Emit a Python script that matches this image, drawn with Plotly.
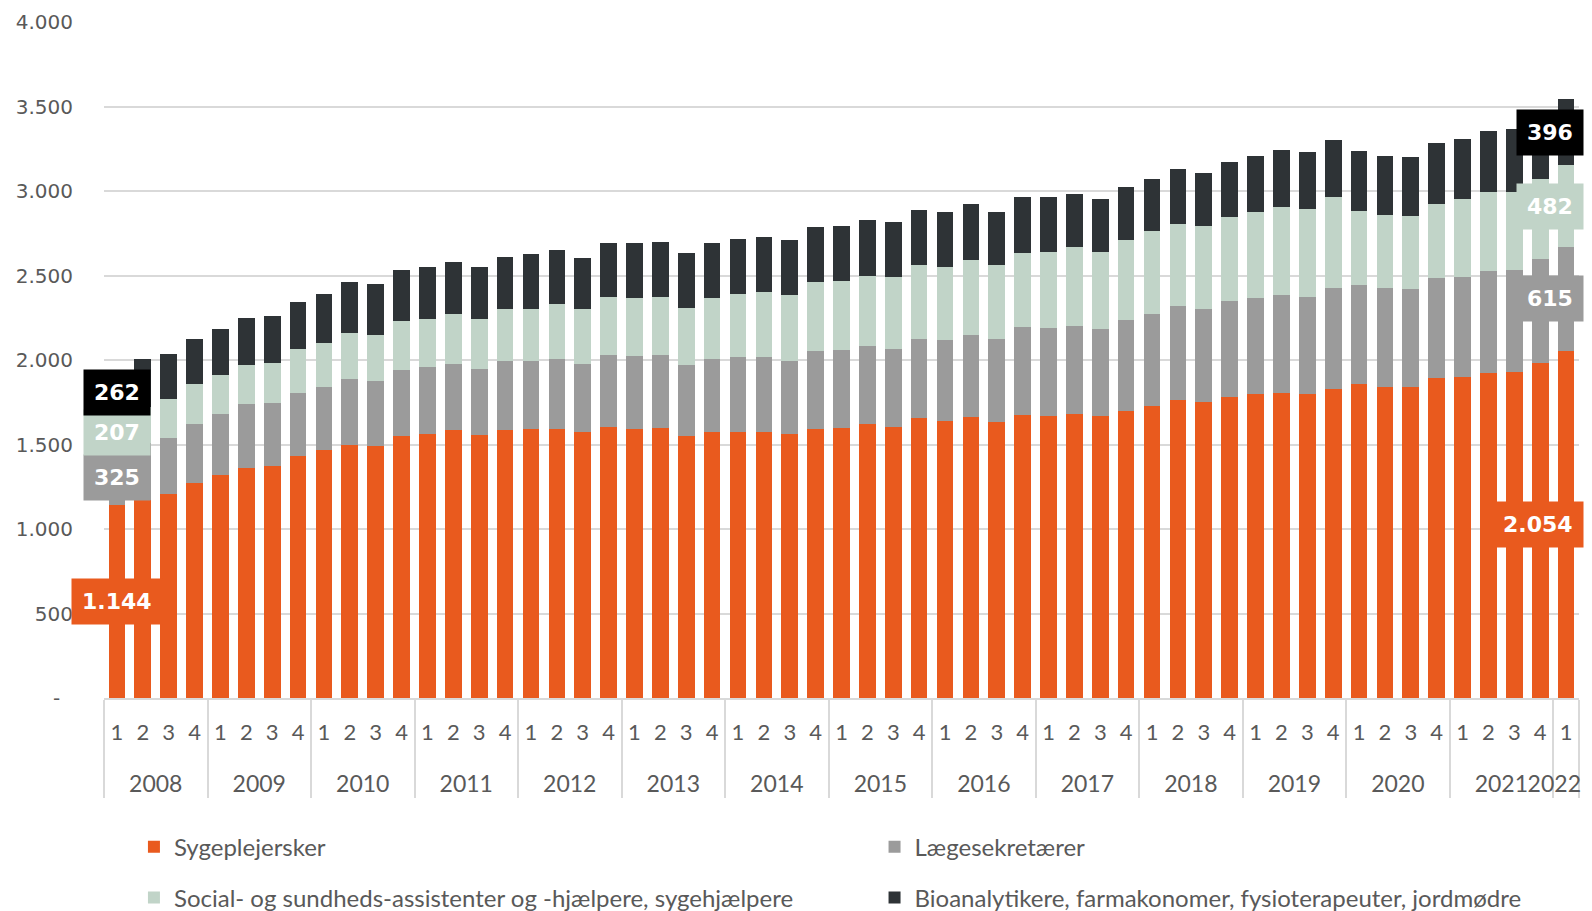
import plotly.graph_objects as go

years = ["2008", "2009", "2010", "2011", "2012", "2013", "2014", "2015",
         "2016", "2017", "2018", "2019", "2020", "2021", "2022"]
quarters = ["1", "2", "3", "4"]

sygeplejersker = [1144, 1174, 1209, 1272, 1321, 1361, 1372, 1432, 1467, 1500, 1494, 1549,
                  1560, 1584, 1554, 1584, 1592, 1592, 1573, 1603, 1592, 1598, 1549, 1576,
                  1576, 1576, 1560, 1592, 1598, 1622, 1603, 1655, 1639, 1660, 1633, 1677,
                  1671, 1682, 1666, 1701, 1728, 1763, 1753, 1780, 1796, 1807, 1796, 1829,
                  1856, 1842, 1842, 1891, 1902, 1924, 1929, 1984, 2054]
laegesekretaerer = [325, 336, 332, 350, 361, 378, 372, 375, 375, 386, 381, 391,
                    397, 391, 394, 408, 405, 411, 405, 427, 432, 432, 424, 432,
                    440, 440, 437, 460, 462, 460, 462, 470, 481, 489, 492, 519,
                    519, 519, 519, 535, 544, 555, 551, 568, 571, 579, 576, 598,
                    590, 585, 579, 593, 592, 603, 603, 611, 615]
sosu = [207, 212, 228, 234, 228, 231, 240, 258, 261, 271, 274, 291,
        285, 297, 294, 307, 307, 326, 326, 342, 343, 342, 337, 356,
        375, 389, 386, 407, 405, 418, 424, 437, 432, 443, 437, 440,
        451, 465, 456, 473, 489, 489, 487, 497, 511, 522, 522, 535,
        437, 432, 432, 437, 457, 467, 462, 476, 482]
bioanalytikere = [262, 286, 264, 269, 272, 277, 277, 280, 288, 302, 302, 299,
                  310, 309, 310, 312, 324, 320, 302, 321, 326, 326, 323, 329,
                  326, 323, 326, 326, 326, 331, 326, 326, 323, 329, 313, 326,
                  321, 315, 310, 315, 312, 326, 318, 326, 331, 334, 334, 340,
                  353, 350, 351, 361, 356, 364, 375, 369, 396]

series_names = ["Sygeplejersker", "Lægesekretærer",
                "Social- og sundheds-assistenter og -hjælpere, sygehjælpere",
                "Bioanalytikere, farmakonomer, fysioterapeuter, jordmødre"]
series_values = [sygeplejersker, laegesekretaerer, sosu, bioanalytikere]
colors = ["#E95A1E", "#9B9B9B", "#C1D4C8", "#2E3336"]
label_bg = ["#E95A1E", "#9B9B9B", "#C1D4C8", "#000000"]
legend_ids = ["legend", "legend2", "legend3", "legend4"]

ytick_vals = [0, 500, 1000, 1500, 2000, 2500, 3000, 3500, 4000]
ytick_text = ["-\u00a0\u00a0", "500", "1.000", "1.500", "2.000", "2.500", "3.000", "3.500", "4.000"]

n = len(sygeplejersker)
x_year = []
x_q = []
for i in range(n):
    yr = years[i // 4]
    if yr == years[-1]:
        yr = yr + "\u00a0" * 4  # keep the last, partial year label inside the page
    x_year.append("<span style='font-size:23px'>" + yr + "</span>")
    x_q.append("<span style='font-size:22px'>" + quarters[i % 4] + "</span><br> ")

fig = go.Figure()
for name, vals, col, lg in zip(series_names, series_values, colors, legend_ids):
    fig.add_trace(go.Bar(x=[x_year, x_q], y=vals, name=name, marker_color=col,
                         marker_line_width=0, legend=lg, showlegend=True))

def fmt(v):
    return f"{v:,}".replace(",", ".")

annotations = []
for idx, shift, anchor in [(0, 0, "center"), (n - 1, 18, "right")]:
    base = 0
    for k, vals in enumerate(series_values):
        v = vals[idx]
        mid = base + v / 2
        base += v
        annotations.append(dict(
            x=idx, y=mid, xref="x", yref="y", text=f"<b>{fmt(v)}</b>",
            showarrow=False, xanchor=anchor, xshift=shift,
            font=dict(family="DejaVu Sans", size=22, color="white"),
            bgcolor=label_bg[k], borderpad=10))

legend_common = dict(orientation="h", xanchor="left", yanchor="top", visible=True,
                     font=dict(family="Lato", size=24, color="#595959"))
legend_pos = [(0.0203, -0.1872), (0.5224, -0.1872), (0.0203, -0.2626), (0.5224, -0.2626)]

layout_legends = {}
for lg, (lx, ly) in zip(legend_ids, legend_pos):
    layout_legends[lg] = dict(x=lx, y=ly, **legend_common)

fig.update_layout(
    width=1576, height=903,
    margin=dict(l=96, r=5, t=14, b=213, autoexpand=False),
    paper_bgcolor="white", plot_bgcolor="white",
    barmode="stack", bargap=0.355,
    showlegend=True,
    annotations=annotations,
    font=dict(family="Lato", color="#595959"),
    **layout_legends,
)
fig.update_yaxes(range=[0, 4000], tickvals=ytick_vals, ticktext=ytick_text,
                 showgrid=True, gridcolor="#D9D9D9", gridwidth=1.5,
                 zeroline=False, showline=False, automargin=False,
                 tickfont=dict(family="DejaVu Sans", size=20, color="#595959"),
                 ticks="", ticklabelstandoff=30)
fig.update_xaxes(type="multicategory", range=[-0.5, n - 0.5],
                 showline=True, linecolor="#D9D9D9", linewidth=2,
                 showdividers=True, dividercolor="#D9D9D9", dividerwidth=2,
                 tickmode="linear", tick0=0, dtick=1, tickangle=0, automargin=False,
                 tickfont=dict(family="Lato", size=25, color="#595959"),
                 showgrid=False, ticks="", ticklabelstandoff=10)

fig.write_html("out.html")
